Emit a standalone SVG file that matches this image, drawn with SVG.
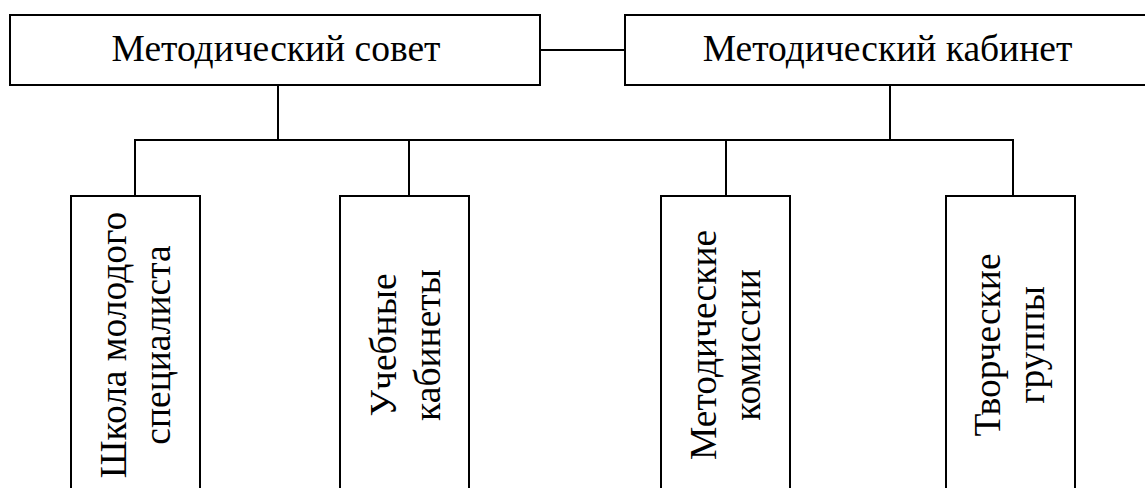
<svg xmlns="http://www.w3.org/2000/svg" width="1145" height="488" viewBox="0 0 1145 488">
<style>
.box{fill:#fff;stroke:#000;stroke-width:2}
.conn line{stroke:#000;stroke-width:2}
text{font-family:"Liberation Serif","Times New Roman",serif;font-size:37.5px;fill:#000;text-anchor:middle}
</style>
<rect width="1145" height="488" fill="#fff"/>
<g class="conn" id="connectors">
<line x1="540" y1="50" x2="625" y2="50"/>
<line x1="278" y1="85" x2="278" y2="140"/>
<line x1="890" y1="85" x2="890" y2="140"/>
<line x1="134" y1="140" x2="1014" y2="140"/>
<line x1="135" y1="140" x2="135" y2="196"/>
<line x1="409" y1="140" x2="409" y2="196"/>
<line x1="726" y1="140" x2="726" y2="196"/>
<line x1="1013" y1="140" x2="1013" y2="196"/>
</g>
<g id="node-council">
<rect class="box" x="10" y="15" width="530" height="70"/>
<text x="276" y="61">Методический совет</text>
</g>
<g id="node-cabinet">
<rect class="box" x="625" y="15" width="525" height="70"/>
<text x="887.5" y="61">Методический кабинет</text>
</g>
<g id="node-school">
<rect class="box" x="71" y="196" width="129" height="310"/>
<g transform="translate(0,345) rotate(-90)">
<text x="0" y="126">Школа молодого</text>
<text x="0" y="170">специалиста</text>
</g>
</g>
<g id="node-classrooms">
<rect class="box" x="340" y="196" width="129" height="310"/>
<g transform="translate(0,345) rotate(-90)">
<text x="0" y="396">Учебные</text>
<text x="0" y="440">кабинеты</text>
</g>
</g>
<g id="node-commissions">
<rect class="box" x="661" y="196" width="129" height="310"/>
<g transform="translate(0,345) rotate(-90)">
<text x="0" y="716">Методические</text>
<text x="0" y="760">комиссии</text>
</g>
</g>
<g id="node-groups">
<rect class="box" x="946" y="196" width="129" height="310"/>
<g transform="translate(0,345) rotate(-90)">
<text x="0" y="1000">Творческие</text>
<text x="0" y="1044">группы</text>
</g>
</g>
</svg>
